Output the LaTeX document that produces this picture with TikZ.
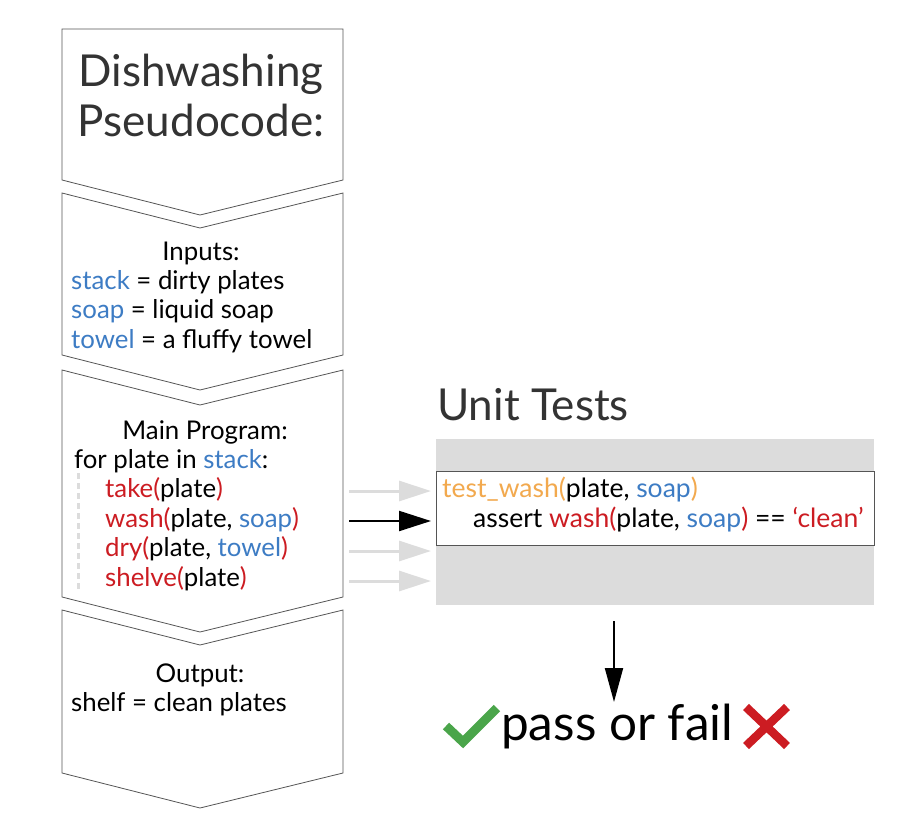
\documentclass[tikz,border=0pt]{standalone}
\usepackage{fontspec}
\setmainfont{Lato}
\usetikzlibrary{arrows.meta}
\definecolor{kblue}{HTML}{3D7CC4}
\definecolor{kred}{HTML}{CC1C22}
\definecolor{korange}{HTML}{F2A94E}
\definecolor{kgray}{HTML}{DCDCDC}
\definecolor{kline}{HTML}{555555}
\definecolor{kgreen}{HTML}{4AA54A}
\definecolor{ktitle}{HTML}{333333}
\newcommand\vb[1]{\textcolor{kblue}{#1}}
\newcommand\fr[1]{\textcolor{kred}{#1}}
\begin{document}
\begin{tikzpicture}[x=1pt,y=-1pt,
  chev/.style={draw=kline, line width=0.8pt, fill=white},
  ltxt/.style={inner sep=0pt, anchor=base west, font=\fontsize{25.8}{26}\selectfont},
  ctxt/.style={inner sep=0pt, anchor=base, font=\fontsize{25.8}{26}\selectfont},
  ttxt/.style={inner sep=0pt, anchor=base west, font=\fontsize{26.5}{27}\selectfont},
  garrow/.style={draw=kgray, line width=3pt, -{Triangle[length=32pt,width=20pt]}},
  barrow/.style={draw=black, line width=2.2pt, -{Triangle[length=32pt,width=20pt]}},
]
\useasboundingbox (0,0) rectangle (906,831);
% chevron boxes
\draw[chev] (62,29) -- (343,29) -- (343,180) -- (200,215) -- (62,180) -- cycle;
\draw[chev] (62,193) -- (200,228) -- (343,193) -- (343,355) -- (200,390) -- (62,355) -- cycle;
\draw[chev] (62,370) -- (200,405) -- (343,370) -- (343,597) -- (200,632) -- (62,597) -- cycle;
\draw[chev] (62,610) -- (200,645) -- (343,610) -- (343,773) -- (200,808) -- (62,773) -- cycle;
% title
\node[inner sep=0pt, anchor=base, font=\fontsize{44}{44}\selectfont, text=ktitle] (t1) at (201,86) {Dishwashing};
\node[inner sep=0pt, anchor=base, font=\fontsize{44}{44}\selectfont, text=ktitle] (t2) at (201,136) {Pseudocode:};
% inputs
\node[ctxt] (inp) at (201,260) {Inputs:};
\node[ltxt] (in1) at (71,289) {\vb{stack} = dirty plates};
\node[ltxt] (in2) at (71,318) {\vb{soap} = liquid soap};
\node[ltxt] (in3) at (71,348) {\vb{towel} = a fluffy towel};
% main
\node[ctxt] (mp) at (205,439) {Main Program:};
\node[ltxt] (for) at (74,468) {for plate in \vb{stack}:};
\node[ltxt] (take) at (105,497) {\fr{take(}plate\fr{)}};
\node[ltxt] (wash) at (105,527) {\fr{wash(}plate, \vb{soap}\fr{)}};
\node[ltxt] (dry) at (105,556) {\fr{dry(}plate, \vb{towel}\fr{)}};
\node[ltxt] (shelve) at (105,586) {\fr{shelve(}plate\fr{)}};
\coordinate (d1) at (78,473);
\coordinate (d2) at (78,592);
\draw[kgray, line width=3pt, dash pattern=on 6pt off 4pt] (d1) -- (d2);
% output
\node[ctxt] (out) at (200,682) {Output:};
\node[ltxt] (shelf) at (71,711) {shelf = clean plates};
% unit tests
\node[inner sep=0pt, anchor=base west, font=\fontsize{44}{44}\selectfont, text=ktitle] (ut) at (437,420) {Unit Tests};
\fill[kgray] (436,439) rectangle (874,605);
\node[draw=kline, line width=0.8pt, fill=white, minimum width=438pt, minimum height=74pt, inner sep=0pt, anchor=north west] (tb) at (436,471) {};
\node[ttxt] (tw) at (442,497) {\textcolor{korange}{test\_wash(}plate, \vb{soap}\textcolor{korange}{)}};
\node[ttxt] (as) at (473,527) {assert \fr{wash(}plate, \vb{soap}\fr{)} == \fr{‘clean’}};
% arrows
\coordinate (a1) at (349,491); \coordinate (b1) at (431,491);
\coordinate (a2) at (349,521); \coordinate (b2) at (431,521);
\coordinate (a3) at (349,551); \coordinate (b3) at (431,551);
\coordinate (a4) at (349,581); \coordinate (b4) at (431,581);
\draw[garrow] (a1) -- (b1);
\draw[barrow] (a2) -- (b2);
\draw[garrow] (a3) -- (b3);
\draw[garrow] (a4) -- (b4);
\coordinate (c1) at (614,621); \coordinate (c2) at (614,702);
\draw[line width=2pt, -{Triangle[length=34pt,width=18pt]}] (c1) -- (c2);
% result
\node[inner sep=0pt, anchor=base west, font=\fontsize{49.5}{50}\selectfont] (pf) at (501,740) {pass or fail};
\draw[kgreen, line width=9pt] (446,726) -- (463,742) -- (497,708);
\draw[kred, line width=8.5pt] (746,707) -- (787,746) (787,707) -- (746,746);
\end{tikzpicture}
\end{document}
